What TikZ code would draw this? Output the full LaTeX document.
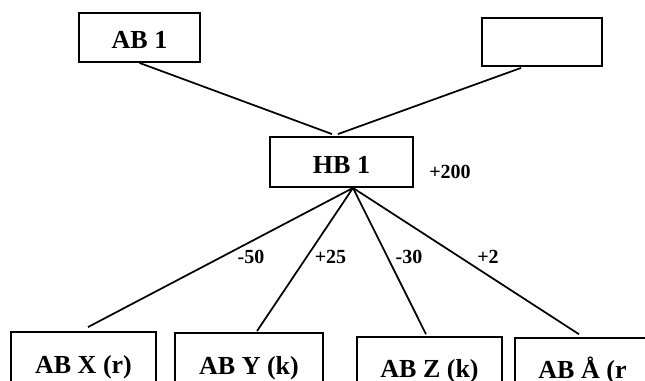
\documentclass[tikz,border=0pt]{standalone}
\usepackage{fontspec}
\setmainfont{Liberation Serif}
\usepackage{tikz}
\usetikzlibrary{calc}

\begin{document}
\begin{tikzpicture}[%
    x=0.75pt, y=-0.75pt,
    box/.style={
      draw,
      line width=1.4pt,
      rectangle,
      inner sep=0pt,
      text height=17pt,
      text depth=0pt,
      font=\fontsize{19.5}{20}\selectfont\bfseries
    },
    change/.style={
      inner sep=0pt,
      font=\fontsize{15}{16}\selectfont\bfseries
    }]
    \useasboundingbox (0,0) rectangle (645,381);
    \tikzset{conn/.style = {line width=1.3pt}}
    \node[box,minimum width=90.75pt,minimum height=36.75pt] at (139.5,37.5) (ab1) {AB 1};
    \node[box,minimum width=90pt,minimum height=36pt] at (542,42) (tom) {};
    \node[box,minimum width=107.25pt,minimum height=37.5pt] at (341.5,162) (hb1) {HB 1};
    \node[box,minimum width=108.75pt,minimum height=45.75pt] at (83.5,362.5) (abx) {AB X (r)};
    \node[box,minimum width=111pt,minimum height=45.75pt] at (249,363.5) (aby) {AB Y (k)};
    \node[box,minimum width=108.75pt,minimum height=44pt] at (429.5,366.5) (abz) {AB Z (k)};
    \node[box,minimum width=101.25pt,minimum height=44pt] at (582.5,367.5) (aba) {AB Å (r};

    \node[change] at (450,172) (tot) {+200};
    \node[change] at (251,257) (dx) {-50};
    \node[change] at (330.5,257) (dy) {+25};
    \node[change] at (409,257) (dz) {-30};
    \node[change] at (488,257) (da) {+2};

    \coordinate (hub) at ($(hb1.south)+(11.5,0)$);

    \path[draw,conn]
        (ab1.south) edge ($(hb1.north)+(-9.5,-2)$)
        ($(tom.south)+(-21,1)$) edge ($(hb1.north)+(-3.5,-2)$)
        (hub) edge ($(abx.north)+(4.5,-4)$)
        (hub) edge ($(aby.north)+(8,-1)$)
        (hub) edge ($(abz.north)+(-3.5,-2)$)
        (hub) edge ($(aba.north)+(-3.5,-3)$)
        ;
\end{tikzpicture}
\end{document}
